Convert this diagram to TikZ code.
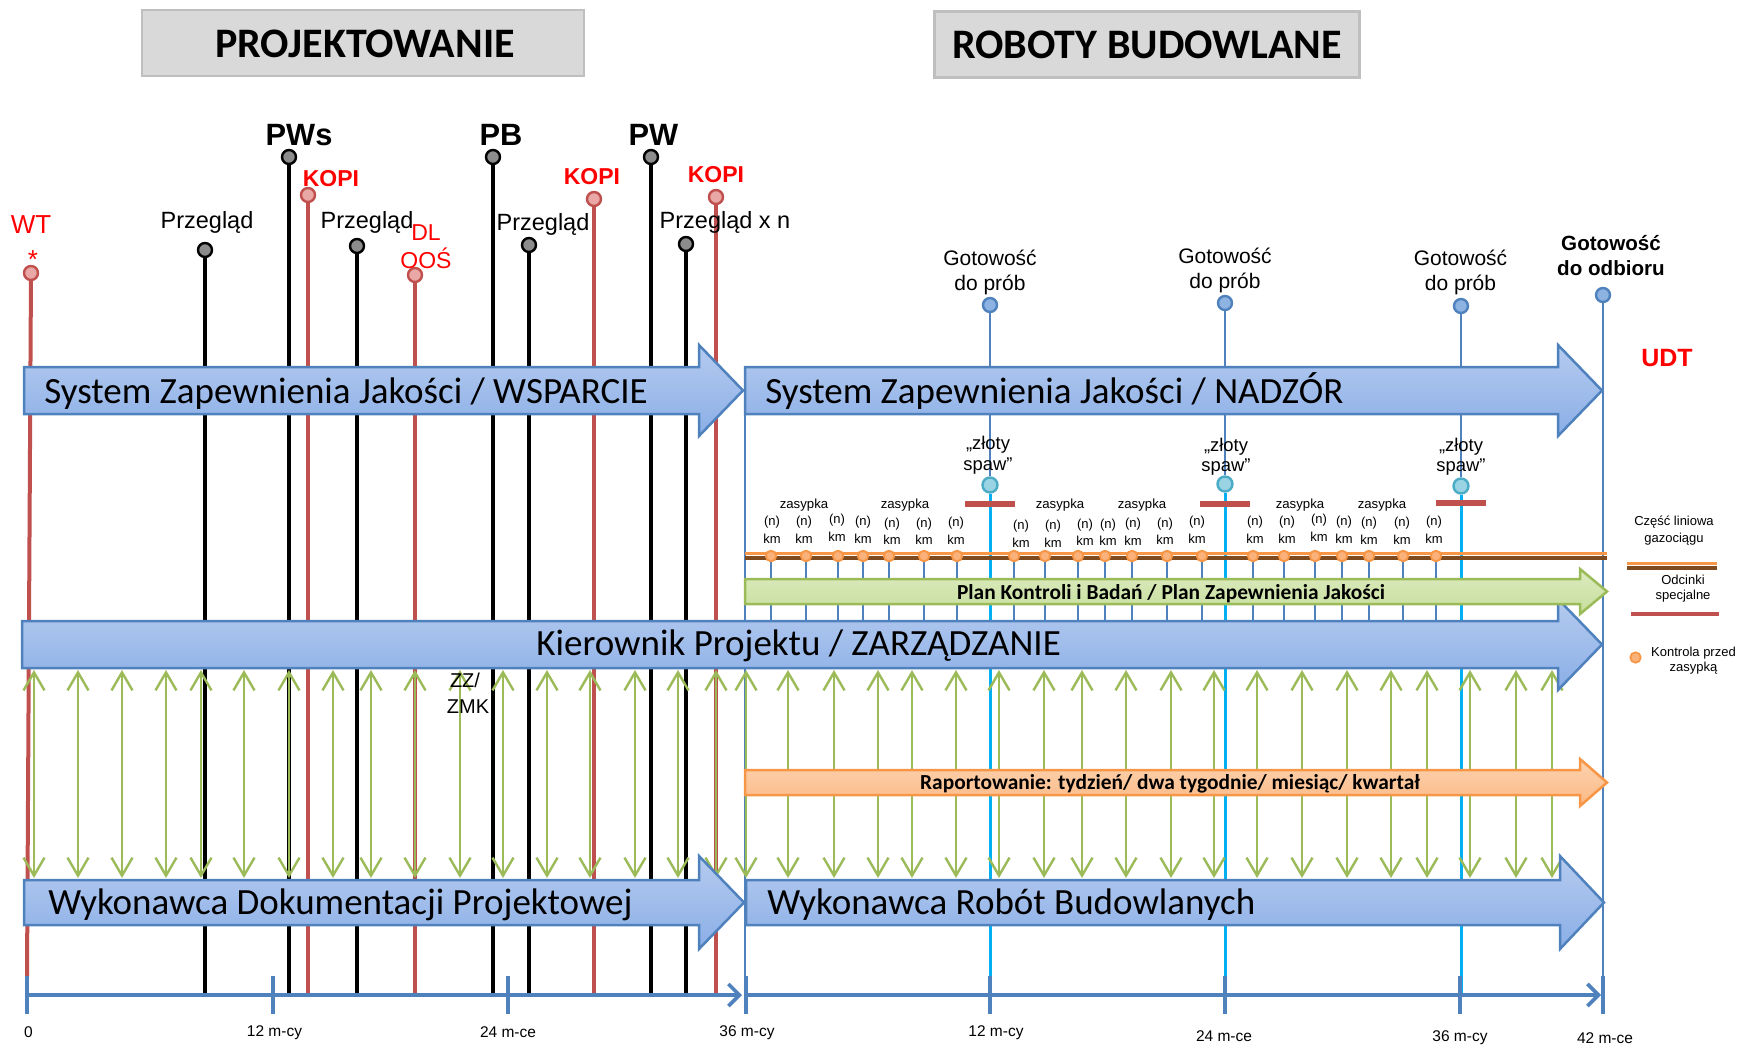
\documentclass[tikz,border=0pt]{standalone}
\usepackage{fontspec}
\setmainfont{Liberation Sans}
\newfontfamily\calib{Carlito}
\usetikzlibrary{arrows.meta}
\pgfdeclarelayer{back}
\pgfdeclarelayer{mid}
\pgfsetlayers{back,mid,main}
\definecolor{redln}{HTML}{C0504D}
\definecolor{redtx}{HTML}{FF0000}
\definecolor{pinkc}{HTML}{E9A7A6}
\definecolor{bluel}{HTML}{4F81BD}
\definecolor{bluec}{HTML}{8DB3E2}
\definecolor{cyanl}{HTML}{00B0F0}
\definecolor{cyanc}{HTML}{9AD3E3}
\definecolor{cyanb}{HTML}{4BACC6}
\definecolor{greenl}{HTML}{9BBB59}
\definecolor{greentop}{HTML}{DCEBBF}
\definecolor{greenbot}{HTML}{C6DE9C}
\definecolor{orangel}{HTML}{F79646}
\definecolor{orangetop}{HTML}{FDD3B0}
\definecolor{orangebot}{HTML}{FBB985}
\definecolor{dotfill}{HTML}{FAB27A}
\definecolor{browne}{HTML}{7F4A1E}
\definecolor{hdrfill}{HTML}{D9D9D9}
\definecolor{hdrline}{HTML}{BFBFBF}
\definecolor{arrtop}{HTML}{B5CBEF}
\definecolor{arrbot}{HTML}{8AAEE7}
\definecolor{graycirc}{HTML}{8C8C8C}
\newcommand\drawbigarrow[7]{%
  \path[#7] (#1,#2) -- (#4,#2) -- (#4,{#2-#5}) -- (#6,{(#2+#3)/2}) -- (#4,{#3+#5}) -- (#4,#3) -- (#1,#3) -- cycle;}
\tikzset{
  bigarrow/.style={draw=bluel, line width=1.25pt, top color=arrtop, bottom color=arrbot},
  grnarrow/.style={draw=greenl, line width=1.25pt, top color=greentop, bottom color=greenbot},
  orgarrow/.style={draw=orangel, line width=1.25pt, top color=orangetop, bottom color=orangebot},
  hdrbox/.style={draw=hdrline, line width=1.25pt, fill=hdrfill, inner sep=0pt},
  hdrtext/.style={anchor=base, inner sep=0pt, font=\calib\bfseries\fontsize{21}{24}\selectfont},
  bigtext/.style={anchor=base west, inner sep=0pt, font=\calib\fontsize{18.5}{22}\selectfont},
  midtext/.style={anchor=base, inner sep=0pt, font=\calib\bfseries\fontsize{10.7}{12}\selectfont},
  gcirc/.style={circle, draw=black, line width=1.2pt, fill=graycirc, inner sep=0pt, minimum size=7pt},
  rcirc/.style={circle, draw=redln, line width=1.2pt, fill=pinkc, inner sep=0pt, minimum size=7pt},
  bcirc/.style={circle, draw=bluel, line width=1.2pt, fill=bluec, inner sep=0pt, minimum size=7pt},
  ccirc/.style={circle, draw=cyanb, line width=1.2pt, fill=cyanc, inner sep=0pt, minimum size=7.5pt},
  odot/.style={circle, draw=orangel, line width=0.9pt, fill=dotfill, inner sep=0pt, minimum size=5.2pt},
  redline/.style={draw=redln, line width=2pt},
  thickline/.style={draw=black, line width=2.4pt},
  thinline/.style={draw=black, line width=1.6pt},
  blueline/.style={draw=bluel, line width=1.3pt},
  cyanline/.style={draw=cyanl, line width=1.5pt},
  dblarrow/.style={draw=greenl, line width=1.2pt, {Straight Barb[length=9pt,width=10.5pt]}-{Straight Barb[length=9pt,width=10.5pt]}},
  axisline/.style={draw=bluel, line width=1.8pt},
  mlabel/.style={anchor=base, inner sep=0pt, font=\fontsize{11.75}{14}\selectfont},
  blabel/.style={anchor=base, inner sep=0pt, font=\bfseries\fontsize{15.4}{18}\selectfont},
  klabel/.style={anchor=base, inner sep=0pt, text=redtx, font=\bfseries\fontsize{11.5}{14}\selectfont},
  rlabel/.style={anchor=base, inner sep=0pt, text=redtx, font=\fontsize{11.5}{14}\selectfont},
  glabel/.style={anchor=base, inner sep=0pt, font=\fontsize{10.5}{12}\selectfont},
  zlabel/.style={anchor=base, inner sep=0pt, font=\fontsize{9.2}{11}\selectfont},
  slabel/.style={anchor=base, inner sep=0pt, font=\fontsize{6.6}{8}\selectfont},
  kmlabel/.style={anchor=base, inner sep=0pt, font=\fontsize{6.5}{8}\selectfont},
  axlabel/.style={anchor=base, inner sep=0pt, font=\fontsize{7.75}{9}\selectfont},
}
\begin{document}
\begin{tikzpicture}[x=0.5pt,y=-0.5pt]
\useasboundingbox (0,0) rectangle (1740,1045);
% ---------- headers
\node[hdrbox, minimum width=221pt, minimum height=33pt] (hproj) at (363,43) {};
\node[hdrtext] (tproj) at (365,57) {PROJEKTOWANIE};
\node[hdrbox, minimum width=212.5pt, minimum height=33pt] (hrob) at (1147,44.5) {};
\node[hdrtext] (trob) at (1147,58.5) {ROBOTY BUDOWLANE};
% ---------- milestone circles (design phase)
\node[rcirc] (cwt) at (31,273) {};
\node[gcirc] (cp1) at (205,250) {};
\node[gcirc] (cpws) at (289,157) {};
\node[rcirc] (ck1) at (308,195) {};
\node[gcirc] (cp2) at (357,246) {};
\node[rcirc] (cdl) at (415,275) {};
\node[gcirc] (cpb) at (493,157) {};
\node[gcirc] (cp3) at (529,245) {};
\node[rcirc] (ck2) at (594,199) {};
\node[gcirc] (cpw) at (651,157) {};
\node[gcirc] (cpn) at (686,244) {};
\node[rcirc] (ck3) at (716,197) {};
% ---------- construction phase circles
\node[bcirc] (cg1) at (990,305) {};
\node[bcirc] (cg2) at (1225,303) {};
\node[bcirc] (cg3) at (1461,306) {};
\node[bcirc] (cgo) at (1603,295) {};
\node[ccirc] (cz1) at (990,485) {};
\node[ccirc] (cz2) at (1225,484) {};
\node[ccirc] (cz3) at (1461,486) {};
% ---------- coordinates
\coordinate (axy) at (0,995);
\coordinate (kpt) at (0,621);
\coordinate (wtend) at (27,977);
\coordinate (l36top) at (745,413);
\coordinate (l36bot) at (745,995);
\coordinate (pipeL) at (745,556);
\coordinate (pipeR) at (1607,556);
% ---------- pipeline dots
\foreach \i/\dx in {1/771,2/806,3/838,4/863,5/889,6/924,7/957,
                    8/1014,9/1045,10/1078,11/1105,12/1132,13/1167,14/1202,
                    15/1253,16/1284,17/1315,18/1342,19/1369,20/1403,21/1436}
  {\node[odot] (d\i) at (\dx,556) {};}
% ---------- background lines
\begin{pgfonlayer}{back}
\draw[redline] (cwt) -- (wtend);
\draw[thinline] (cp1) -- (cp1 |- axy);
\draw[thickline] (cpws) -- (cpws |- axy);
\draw[redline] (ck1) -- (ck1 |- axy);
\draw[thinline] (cp2) -- (cp2 |- axy);
\draw[redline] (cdl) -- (cdl |- axy);
\draw[thickline] (cpb) -- (cpb |- axy);
\draw[thinline] (cp3) -- (cp3 |- axy);
\draw[redline] (ck2) -- (ck2 |- axy);
\draw[thickline] (cpw) -- (cpw |- axy);
\draw[thinline] (cpn) -- (cpn |- axy);
\draw[redline] (ck3) -- (ck3 |- axy);
\draw[blueline, line width=1pt] (l36top) -- (l36bot);
\draw[blueline] (cg1) -- (cz1);
\draw[blueline] (cg2) -- (cz2);
\draw[blueline] (cg3) -- (cz3);
\draw[cyanline] (cz1) -- (cz1 |- axy);
\draw[cyanline] (cz2) -- (cz2 |- axy);
\draw[cyanline] (cz3) -- (cz3 |- axy);
\draw[blueline] (cgo) -- (cgo |- axy);
\foreach \i in {1,...,21} {\draw[blueline, line width=1.3pt] (d\i) -- (d\i |- kpt);}
\foreach \gx in {34,78,122,166,201,244,289,333,371,415,460,503,547,590,635,678,716,
                 746,788,834,878,912,956,999,1044,1082,1126,1171,1214,1257,1302,1347,1391,1427,1470,1516,1552}
  {\draw[dblarrow] (\gx,670) -- (\gx,878);}
\end{pgfonlayer}
% ---------- big arrows
\begin{pgfonlayer}{mid}
\drawbigarrow{24}{367}{414}{699}{22}{743}{bigarrow}
\drawbigarrow{745}{367}{414}{1558}{22}{1602}{bigarrow}
\drawbigarrow{22}{621}{668}{1558}{22}{1602}{bigarrow}
\drawbigarrow{24}{880}{925}{699}{24}{744}{bigarrow}
\drawbigarrow{746}{880}{925}{1560}{24}{1604}{bigarrow}
\drawbigarrow{745}{579}{604}{1580}{10}{1607}{grnarrow}
\drawbigarrow{745}{770}{795}{1580}{11}{1607}{orgarrow}
\end{pgfonlayer}
% ---------- pipeline
\draw[browne, line width=2.4pt] ([yshift=-1pt]pipeL) -- ([yshift=-1pt]pipeR);
\draw[orangel, line width=1.5pt] ([yshift=1.2pt]pipeL) -- ([yshift=1.2pt]pipeR);
\foreach \i in {1,...,21} {\node[odot] at (d\i) {};}
% special sections
\draw[redln, line width=2.6pt] (965,504) -- (1015,504);
\draw[redln, line width=2.6pt] (1200,504) -- (1250,504);
\draw[redln, line width=2.6pt] (1436,503) -- (1486,503);
% ---------- arrow texts
\node[bigtext] (tw) at (44,403) {System Zapewnienia Jakości / WSPARCIE};
\node[bigtext] (tn) at (765,403) {System Zapewnienia Jakości / NADZÓR};
\node[bigtext] (tk) at (536,655) {Kierownik Projektu / ZARZĄDZANIE};
\node[bigtext] (twd) at (48,914) {Wykonawca Dokumentacji Projektowej};
\node[bigtext] (twr) at (767,914) {Wykonawca Robót Budowlanych};
\node[midtext] (tpkb) at (1171,599) {Plan Kontroli i Badań / Plan Zapewnienia Jakości};
\node[midtext] (trap) at (1170,789) {Raportowanie: tydzień/ dwa tygodnie/ miesiąc/ kwartał};
% ---------- milestone labels
\node[anchor=base, inner sep=0pt, text=redtx, font=\fontsize{13}{15}\selectfont] (twt) at (31,233.5) {WT};
\node[anchor=base, inner sep=0pt, text=redtx, font=\fontsize{13}{15}\selectfont] (tstar) at (33,268) {*};
\node[mlabel] (tp1) at (207,228) {Przegląd};
\node[blabel] (tpws) at (299,145) {PWs};
\node[klabel] (tk1) at (331,186.5) {KOPI};
\node[mlabel] (tp2) at (367,228) {Przegląd};
\node[rlabel] (tdl) at (426,240) {DL};
\node[rlabel] (tooz) at (426,268) {OOŚ};
\node[blabel] (tpb) at (501,145) {PB};
\node[mlabel] (tp3) at (543,230) {Przegląd};
\node[klabel] (tk2) at (592,184) {KOPI};
\node[blabel] (tpw) at (653.5,145) {PW};
\node[mlabel] (tpn) at (725,228) {Przegląd x n};
\node[klabel] (tk3) at (716,182.5) {KOPI};
\node[anchor=base, inner sep=0pt, font=\fontsize{10}{12}\selectfont] (tzz) at (465,687) {ZZ/};
\node[anchor=base, inner sep=0pt, font=\fontsize{10}{12}\selectfont] (tzmk) at (468,713) {ZMK};
% ---------- construction labels
\node[glabel] (tg1a) at (990,265) {Gotowość};
\node[glabel] (tg1b) at (990,290.5) {do prób};
\node[glabel] (tg2a) at (1225,263.5) {Gotowość};
\node[glabel] (tg2b) at (1225,288.5) {do prób};
\node[glabel] (tg3a) at (1460.5,265) {Gotowość};
\node[glabel] (tg3b) at (1460.5,290.5) {do prób};
\node[glabel, font=\bfseries\fontsize{10.3}{12}\selectfont] (toa) at (1611,250.5) {Gotowość};
\node[glabel, font=\bfseries\fontsize{10.3}{12}\selectfont] (tob) at (1611,275) {do odbioru};
\node[anchor=base, inner sep=0pt, text=redtx, font=\bfseries\fontsize{12.5}{14}\selectfont] (tudt) at (1667,366) {UDT};
\node[zlabel] (tz1a) at (988,449) {„złoty};
\node[zlabel] (tz1b) at (988,470) {spaw”};
\node[zlabel] (tz2a) at (1226,451.5) {„złoty};
\node[zlabel] (tz2b) at (1226,471.5) {spaw”};
\node[zlabel] (tz3a) at (1461,451.5) {„złoty};
\node[zlabel] (tz3b) at (1461,471.5) {spaw”};
\foreach \i/\zx in {1/804,2/905,3/1060,4/1142,5/1300,6/1382}
  {\node[slabel] (zs\i) at (\zx,508.5) {zasypka};}
\foreach \i/\lx/\dy in {1/772/0,2/804/0,3/837/-1.7,4/863/0,5/892/1.5,6/924/1.5,7/956/1,
                        8/1021/4.3,9/1053/4.3,10/1085/2.7,11/1108/2.7,12/1133/2.3,13/1165/1.7,14/1197/0,
                        15/1255/0,16/1287/0,17/1319/-1.7,18/1344/0,19/1369/1,20/1402/1,21/1434/0}
  {\node[kmlabel] (n\i) at (\lx,{525.5+(\dy)}) {(n)};
   \node[kmlabel] (k\i) at (\lx,{543+(\dy)}) {km};}
% ---------- legend
\node[kmlabel] (lg1) at (1674,525.5) {Część liniowa};
\node[kmlabel] (lg2) at (1674,542) {gazociągu};
\coordinate (lpL) at (1627,566);
\coordinate (lpR) at (1717,566);
\draw[browne, line width=2.4pt] ([yshift=-1pt]lpL) -- ([yshift=-1pt]lpR);
\draw[orangel, line width=1.5pt] ([yshift=1.2pt]lpL) -- ([yshift=1.2pt]lpR);
\node[kmlabel] (lg3) at (1683,584) {Odcinki};
\node[kmlabel] (lg4) at (1683,599) {specjalne};
\coordinate (lrL) at (1631,614);
\coordinate (lrR) at (1719,614);
\draw[redln, line width=2.4pt] (lrL) -- (lrR);
\node[odot] (ldot) at (1635.5,657.5) {};
\node[kmlabel] (lg5) at (1693.5,656.5) {Kontrola przed};
\node[kmlabel] (lg6) at (1693.5,671) {zasypką};
% ---------- time axis
\coordinate (ax0) at (27,995);
\coordinate (axL) at (742,995);
\coordinate (ax1) at (746,995);
\coordinate (axR) at (1601,995);
\draw[axisline, -{Straight Barb[length=5.5pt,width=11pt]}] (ax0) -- (axL);
\draw[axisline, -{Straight Barb[length=5.5pt,width=11pt]}] (ax1) -- (axR);
\foreach \tx in {27,273,508,746,990,1225,1460,1603}
  {\draw[axisline, line width=2pt] (\tx,976) -- (\tx,1014);}
\node[axlabel] (a0) at (28.5,1037) {0};
\node[axlabel] (a1) at (274.5,1036.5) {12 m-cy};
\node[axlabel] (a2) at (508,1037) {24 m-ce};
\node[axlabel] (a3) at (747,1036.5) {36 m-cy};
\node[axlabel] (a4) at (996,1036.5) {12 m-cy};
\node[axlabel] (a5) at (1224,1041.5) {24 m-ce};
\node[axlabel] (a6) at (1460,1041) {36 m-cy};
\node[axlabel] (a7) at (1605,1043) {42 m-ce};
\end{tikzpicture}
\end{document}
